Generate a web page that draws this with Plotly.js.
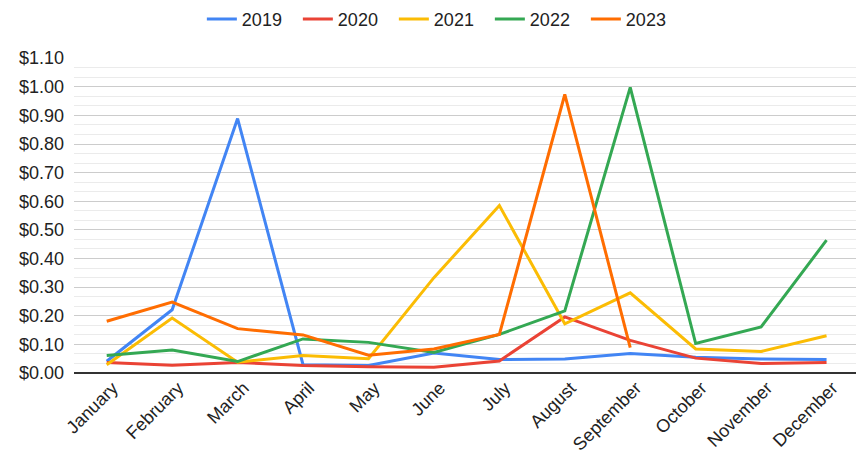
<!DOCTYPE html>
<html>
<head>
<meta charset="utf-8">
<script src="https://cdn.plot.ly/plotly-3.0.1.min.js"></script>
<style>html,body{margin:0;padding:0;background:#fff;}#chart{width:856px;height:455px;}</style>
</head>
<body>
<div id="chart"></div>
<script>
const months = ["January","February","March","April","May","June","July","August","September","October","November","December"];
const seriesNames = ["2019","2020","2021","2022","2023"];
const colors = ["#4285F4","#EA4335","#FBBC04","#34A853","#FF6D01"];
const v2019 = [0.041,0.221,0.889,0.029,0.026,0.070,0.047,0.049,0.068,0.055,0.049,0.047];
const v2020 = [0.037,0.027,0.037,0.026,0.022,0.020,0.042,0.196,0.114,0.052,0.033,0.037];
const v2021 = [0.029,0.192,0.038,0.061,0.050,0.333,0.585,0.172,0.280,0.084,0.075,0.130];
const v2022 = [0.061,0.080,0.040,0.119,0.107,0.072,0.135,0.217,0.998,0.103,0.161,0.464];
const v2023 = [0.181,0.248,0.155,0.133,0.062,0.084,0.135,0.973,0.089,null,null,null];
const yTickVals = [0,0.1,0.2,0.3,0.4,0.5,0.6,0.7,0.8,0.9,1.0,1.1];
const yTickText = ["$0.00","$0.10","$0.20","$0.30","$0.40","$0.50","$0.60","$0.70","$0.80","$0.90","$1.00","$1.10"];

const allValues = [v2019,v2020,v2021,v2022,v2023];
const traces = allValues.map((vals,i)=>({
  type:"scatter", mode:"lines", x:months, y:vals, name:seriesNames[i],
  line:{color:colors[i], width:3}, connectgaps:false
}));

const fam = "Liberation Sans, Arial, sans-serif";
const layout = {
  width:856, height:455,
  margin:{l:74, r:0, t:58, b:82},
  paper_bgcolor:"#fff", plot_bgcolor:"#fff",
  font:{family:fam, size:18, color:"#222"},
  showlegend:true,
  legend:{orientation:"h", x:0.1635, xanchor:"left", y:0.998, yanchor:"top", yref:"container",
          font:{family:fam,size:18,color:"#222"}, itemwidth:30, tracegroupgap:0,
          entrywidth:51, entrywidthmode:"pixels"},
  xaxis:{type:"category", range:[-0.5,11.45], tickangle:-45, showgrid:false, zeroline:false,
         showline:false, ticks:"", ticklabelshift:6, tickfont:{family:fam,size:18,color:"#222"}, fixedrange:true},
  yaxis:{range:[0,1.1005], tickvals:yTickVals, ticktext:yTickText, showgrid:true, gridcolor:"#cccccc", gridwidth:1,
         zeroline:true, zerolinecolor:"#333", zerolinewidth:1.5, ticks:"", ticklabelstandoff:9,
         tickfont:{family:fam,size:18,color:"#222"},
         minor:{tick0:0, dtick:0.1/3, showgrid:true, gridcolor:"#ebebeb", gridwidth:1}}
};
Plotly.newPlot("chart", traces, layout, {displayModeBar:false, staticPlot:true});
</script>
</body>
</html>
